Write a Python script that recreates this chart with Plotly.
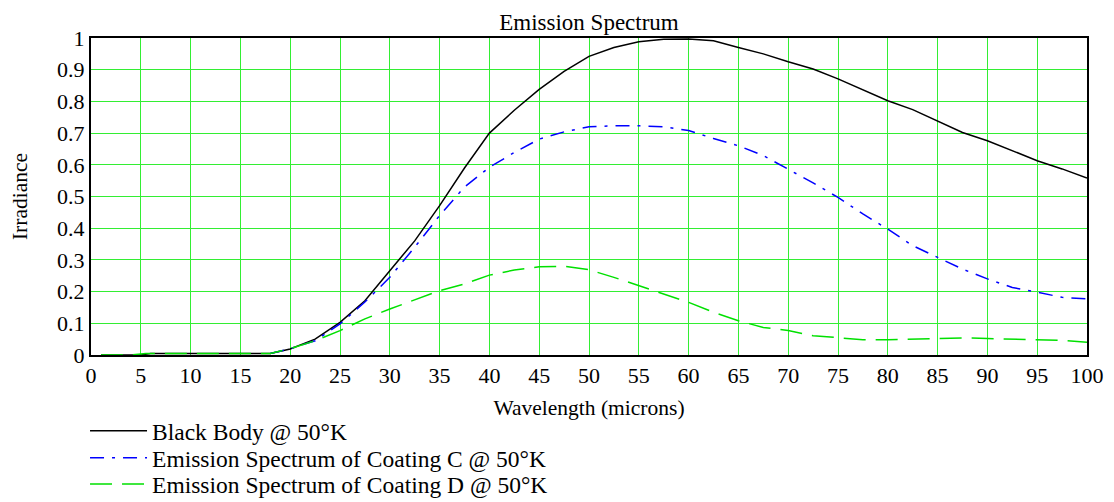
import plotly.graph_objects as go

# Black body
bb_x = [1, 5, 6, 10, 15, 18, 20, 22.5, 25, 27.5, 30, 32.5, 35, 37.5, 40, 42.5, 45, 47.5, 50, 52.5,
        55, 57.5, 60, 62.5, 65, 67.5, 70, 72.5, 75, 77.5, 80, 82.5, 85, 87.5, 90, 92.5, 95, 97.5, 100]
bb_y = [0, 0, 0.005, 0.005, 0.005, 0.005, 0.019, 0.05, 0.103, 0.171, 0.266, 0.36, 0.471, 0.59, 0.7,
        0.772, 0.838, 0.895, 0.942, 0.97, 0.988, 0.996, 0.997, 0.991, 0.97, 0.95, 0.925, 0.902, 0.871,
        0.837, 0.802, 0.774, 0.739, 0.702, 0.676, 0.645, 0.613, 0.587, 0.558]

# Coating C
c_x = [18, 20, 22.5, 25, 27.5, 30, 32.5, 35, 37.5, 40, 42.5, 45, 47.5, 50, 52.5, 55, 57.5, 60, 62.5,
       65, 67.5, 70, 72.5, 75, 77.5, 80, 82.5, 85, 87.5, 90, 92.5, 95, 97.5, 100]
c_y = [0.005, 0.02, 0.045, 0.098, 0.167, 0.245, 0.34, 0.44, 0.53, 0.592, 0.639, 0.681, 0.704, 0.72,
       0.723, 0.723, 0.72, 0.708, 0.683, 0.66, 0.629, 0.587, 0.543, 0.497, 0.445, 0.397, 0.345, 0.308,
       0.271, 0.24, 0.213, 0.198, 0.182, 0.177]

# Coating D
d_x = [1, 4, 5.5, 10, 15, 18, 20, 22.5, 25, 27.5, 30, 32.5, 35, 37.5, 40, 42.5, 45, 47.5, 50, 52.5,
       55, 57.5, 60, 62.5, 65, 67.5, 70, 72.5, 75, 77.5, 80, 82.5, 85, 87.5, 90, 92.5, 95, 97.5, 100]
d_y = [0, 0, 0.005, 0.005, 0.005, 0.005, 0.02, 0.045, 0.077, 0.114, 0.145, 0.175, 0.203, 0.224, 0.252,
       0.268, 0.278, 0.28, 0.269, 0.245, 0.219, 0.192, 0.166, 0.135, 0.108, 0.087, 0.077, 0.061, 0.054,
       0.048, 0.048, 0.05, 0.054, 0.054, 0.052, 0.05, 0.048, 0.046, 0.04]

names = ["Black Body @ 50°K",
         "Emission Spectrum of Coating C @ 50°K",
         "Emission Spectrum of Coating D @ 50°K"]

x_ticks = list(range(0, 101, 5))
y_ticks = [0, 0.1, 0.2, 0.3, 0.4, 0.5, 0.6, 0.7, 0.8, 0.9, 1]
y_labels = ["0", "0.1", "0.2", "0.3", "0.4", "0.5", "0.6", "0.7", "0.8", "0.9", "1"]

FONT = "Liberation Serif, Times New Roman, serif"
GRID = "#33ee33"

fig = go.Figure()
fig.add_trace(go.Scatter(x=bb_x, y=bb_y, mode="lines", name=names[0], legend="legend",
                         line=dict(color="black", width=1.5)))
fig.add_trace(go.Scatter(x=c_x, y=c_y, mode="lines", name=names[1], legend="legend2",
                         line=dict(color="#0000ff", width=1.5, dash="14px,8px,3px,8px")))
fig.add_trace(go.Scatter(x=d_x, y=d_y, mode="lines", name=names[2], legend="legend3",
                         line=dict(color="#00e000", width=1.5, dash="22px,10px")))

leg_common = dict(x=-0.006, xanchor="left", yanchor="middle", orientation="v",
                  itemwidth=57, bgcolor="rgba(0,0,0,0)",
                  font=dict(family=FONT, size=23.5, color="black"))

# The page body adds an 8px offset, so the figure is sized to the visible area.
fig.update_layout(
    width=1106, height=494,
    margin=dict(l=83, r=27, t=30, b=147, autoexpand=False),
    paper_bgcolor="white", plot_bgcolor="white",
    font=dict(family=FONT, size=22, color="black"),
    title=dict(text="Emission Spectrum", xref="paper", x=0.5, xanchor="center",
               yref="container", y=0.971, yanchor="middle",
               font=dict(family=FONT, size=23, color="black")),
    xaxis=dict(range=[0, 100], tickvals=x_ticks, showgrid=True, gridcolor=GRID, gridwidth=1,
               zeroline=False, showline=True, linecolor="black", linewidth=2, mirror=True,
               ticks="", tickfont=dict(family=FONT, size=22), automargin=False,
               title=dict(text="Wavelength (microns)", standoff=13, font=dict(family=FONT, size=21.5))),
    yaxis=dict(range=[0, 1], tickvals=y_ticks, ticktext=y_labels, showgrid=True, gridcolor=GRID,
               gridwidth=1, zeroline=False, showline=True, linecolor="black", linewidth=2, mirror=True,
               ticks="", tickfont=dict(family=FONT, size=22), automargin=False,
               title=dict(text="Irradiance", standoff=28, font=dict(family=FONT, size=21.5))),
    legend=dict(y=-0.240, **leg_common),
    legend2=dict(y=-0.325, **leg_common),
    legend3=dict(y=-0.408, **leg_common),
    showlegend=True,
)

fig.write_html("out.html")
